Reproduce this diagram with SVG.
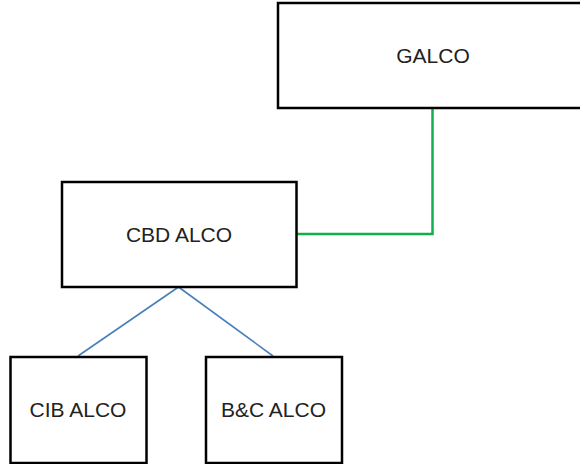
<svg xmlns="http://www.w3.org/2000/svg" width="580" height="464" viewBox="0 0 580 464">
<style>
.box{fill:#ffffff;stroke:#000000;stroke-width:2.5}
.lbl{font-family:"Liberation Sans",Arial,Helvetica,sans-serif;font-size:21px;fill:#222222;text-anchor:middle}
.green{fill:none;stroke:#12B04A;stroke-width:2.5}
.blue{fill:none;stroke:#4A7EBB;stroke-width:1.6}
</style>
<rect width="580" height="464" fill="#ffffff"/>
<g id="connectors">
<polyline class="green" points="297,234 432.5,234 432.5,108"/>
<line class="blue" x1="178.5" y1="287" x2="78" y2="356"/>
<line class="blue" x1="178.5" y1="287" x2="273" y2="356"/>
</g>
<g id="galco">
<rect class="box" x="278" y="3" width="310" height="105"/>
<text class="lbl" x="433" y="62.5">GALCO</text>
</g>
<g id="cbd-alco">
<rect class="box" x="62" y="182" width="234.5" height="105"/>
<text class="lbl" x="179" y="242">CBD ALCO</text>
</g>
<g id="cib-alco">
<rect class="box" x="10.5" y="357" width="136" height="106"/>
<text class="lbl" x="78" y="417">CIB ALCO</text>
</g>
<g id="bc-alco">
<rect class="box" x="206" y="357" width="136" height="106"/>
<text class="lbl" x="273.5" y="417">B&amp;C ALCO</text>
</g>
</svg>
